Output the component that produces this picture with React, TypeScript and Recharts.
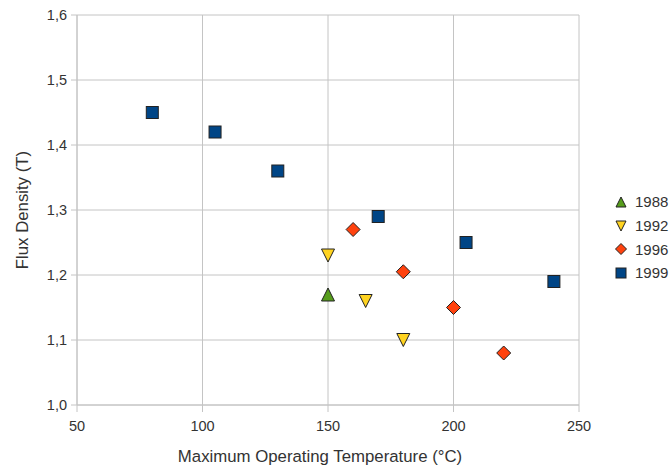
import React from 'react';
import { ScatterChart, Scatter, XAxis, YAxis, CartesianGrid } from 'recharts';

const temps1988 = [150];
const flux1988 = [1.17];
const temps1992 = [150, 165, 180];
const flux1992 = [1.23, 1.16, 1.1];
const temps1996 = [160, 180, 200, 220];
const flux1996 = [1.27, 1.205, 1.15, 1.08];
const temps1999 = [80, 105, 130, 170, 205, 240];
const flux1999 = [1.45, 1.42, 1.36, 1.29, 1.25, 1.19];

const xTicks = [50, 100, 150, 200, 250];
const yTicks = [1.0, 1.1, 1.2, 1.3, 1.4, 1.5, 1.6];

const toPoints = (xs: number[], ys: number[]) => xs.map((x, i) => ({ x, y: ys[i] }));

const FONT = '"Liberation Sans", Arial, sans-serif';
const TEXT = '#333';
const GRID = '#c4c4c4';

type ShapeKind = 'up' | 'down' | 'diamond' | 'square';

const drawShape = (kind: ShapeKind, cx: number, cy: number, s: number, fill: string) => {
  const h = s / 2;
  const stroke = '#222';
  if (kind === 'square') {
    return <rect x={cx - h} y={cy - h} width={s} height={s} fill={fill} stroke={stroke} strokeWidth={1} />;
  }
  if (kind === 'diamond') {
    return (
      <polygon
        points={`${cx},${cy - h - 0.5} ${cx + h + 0.5},${cy} ${cx},${cy + h + 0.5} ${cx - h - 0.5},${cy}`}
        fill={fill}
        stroke={stroke}
        strokeWidth={1}
      />
    );
  }
  if (kind === 'up') {
    return (
      <polygon
        points={`${cx},${cy - h} ${cx + h},${cy + h} ${cx - h},${cy + h}`}
        fill={fill}
        stroke={stroke}
        strokeWidth={1}
      />
    );
  }
  return (
    <polygon
      points={`${cx - h},${cy - h} ${cx + h},${cy - h} ${cx},${cy + h}`}
      fill={fill}
      stroke={stroke}
      strokeWidth={1}
    />
  );
};

const series = [
  { name: '1988', data: toPoints(temps1988, flux1988), kind: 'up' as ShapeKind, color: '#579d1c' },
  { name: '1992', data: toPoints(temps1992, flux1992), kind: 'down' as ShapeKind, color: '#ffd320' },
  { name: '1996', data: toPoints(temps1996, flux1996), kind: 'diamond' as ShapeKind, color: '#ff420e' },
  { name: '1999', data: toPoints(temps1999, flux1999), kind: 'square' as ShapeKind, color: '#004586' },
];

export default function App() {
  return (
    <div style={{ position: 'absolute', left: 0, top: 0, width: 671, height: 468, background: '#fff' }}>
      <ScatterChart width={671} height={468} margin={{ top: 15, right: 92, bottom: 0, left: 0 }}>
        <CartesianGrid stroke={GRID} strokeWidth={1} />
        <XAxis
          type="number"
          dataKey="x"
          domain={[50, 250]}
          ticks={xTicks}
          height={63}
          stroke={GRID}
          tickSize={7}
          tickMargin={9}
          tick={{ fill: TEXT, fontSize: 14.5, fontFamily: FONT }}
          label={() => (
            <text x={320} y={462} textAnchor="middle" fill={TEXT} fontSize={16.8} fontFamily={FONT}>
              Maximum Operating Temperature (°C)
            </text>
          )}
          allowDataOverflow
        />
        <YAxis
          type="number"
          dataKey="y"
          domain={[1.0, 1.6]}
          ticks={yTicks}
          width={77}
          stroke={GRID}
          tickSize={6}
          tickMargin={4}
          tickFormatter={(v: number) => v.toFixed(1).replace('.', ',')}
          tick={{ fill: TEXT, fontSize: 14.5, fontFamily: FONT }}
          label={() => (
            <text
              x={28}
              y={210}
              textAnchor="middle"
              fill={TEXT}
              fontSize={16.8}
              fontFamily={FONT}
              transform="rotate(-90 28 210)"
            >
              Flux Density (T)
            </text>
          )}
          allowDataOverflow
        />
        {series.map((s) => (
          <Scatter
            key={s.name}
            name={s.name}
            data={s.data}
            fill={s.color}
            isAnimationActive={false}
            shape={(p: any) => drawShape(s.kind, p.cx, p.cy, s.kind === 'square' ? 12 : 13, s.color)}
          />
        ))}
      </ScatterChart>
      <div
        style={{
          position: 'absolute',
          left: 614,
          top: 190,
          fontFamily: FONT,
          fontSize: 15,
          color: TEXT,
        }}
      >
        {series.map((s) => (
          <div key={s.name} style={{ display: 'flex', alignItems: 'center', height: 23.7 }}>
            <svg width={14} height={14} style={{ marginRight: 7 }}>
              {drawShape(s.kind, 7, 7, 10, s.color)}
            </svg>
            <span>{s.name}</span>
          </div>
        ))}
      </div>
    </div>
  );
}
